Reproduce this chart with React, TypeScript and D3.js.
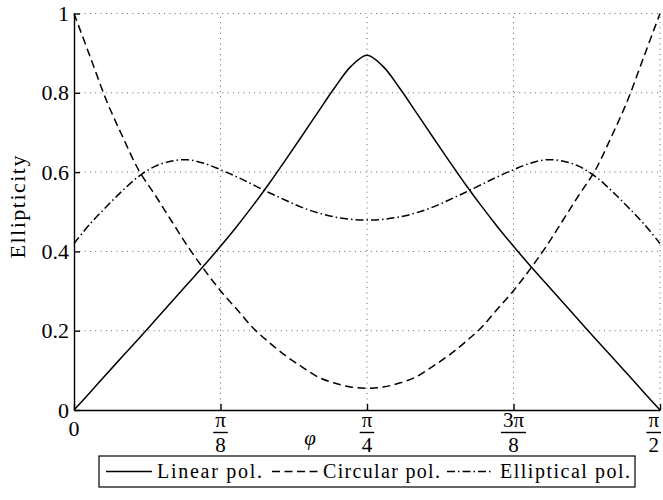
import * as d3 from "d3";
import React, { useEffect, useRef } from "react";

// angle phi in degrees (0 .. 90 = pi/2)
const phiDeg = [
  0, 2.5, 5, 7.5, 10, 12.5, 15, 17.5, 20, 22.5, 25, 27.5, 30, 32.5, 35, 37.5, 40, 42.5,
  45, 47.5, 50, 52.5, 55, 57.5, 60, 62.5, 65, 67.5, 70, 72.5, 75, 77.5, 80, 82.5, 85, 87.5, 90
];
const linearPol = [
  0, 0.045, 0.091, 0.136, 0.181, 0.227, 0.273, 0.319, 0.365, 0.413, 0.463, 0.516, 0.572, 0.631,
  0.691, 0.752, 0.812, 0.866, 0.895, 0.866, 0.812, 0.752, 0.691, 0.631, 0.572, 0.516, 0.463, 0.413,
  0.365, 0.319, 0.273, 0.227, 0.181, 0.136, 0.091, 0.045, 0
];
const circularPol = [
  1.0, 0.89, 0.78, 0.688, 0.603, 0.541, 0.476, 0.412, 0.354, 0.301, 0.254, 0.207, 0.17, 0.137,
  0.109, 0.083, 0.068, 0.058, 0.055, 0.058, 0.068, 0.083, 0.109, 0.137, 0.17, 0.207, 0.254, 0.301,
  0.354, 0.412, 0.476, 0.541, 0.603, 0.688, 0.78, 0.89, 1.0
];
const ellipticalPol = [
  0.42, 0.47, 0.513, 0.554, 0.59, 0.615, 0.628, 0.631, 0.622, 0.606, 0.588, 0.568, 0.548, 0.529,
  0.511, 0.497, 0.487, 0.481, 0.479, 0.481, 0.487, 0.497, 0.511, 0.529, 0.548, 0.568, 0.588, 0.606,
  0.622, 0.631, 0.628, 0.615, 0.59, 0.554, 0.513, 0.47, 0.42
];

const yTicks = [0, 0.2, 0.4, 0.6, 0.8, 1];
const xTicks = [0, 22.5, 45, 67.5, 90];
const xTickNum = ["0", "π", "π", "3π", "π"];
const xTickDen = ["", "8", "4", "8", "2"];
const legendLabels = ["Linear pol.", "Circular pol.", "Elliptical pol."];

const FONT = "'Liberation Serif', 'Times New Roman', serif";

export default function App() {
  const svgRef = useRef<SVGSVGElement>(null);
  const W = 663;
  const H = 500;

  useEffect(() => {
    const svg = d3.select(svgRef.current);
    svg.selectAll("*").remove();

    const x = d3.scaleLinear().domain([0, 90]).range([74, 660]);
    const y = d3.scaleLinear().domain([0, 1]).range([410, 13.5]);

    // grid
    const grid = svg.append("g")
      .attr("stroke", "#666")
      .attr("stroke-width", 1)
      .attr("stroke-dasharray", "1 4.3");
    xTicks.slice(1).forEach((t) => {
      grid.append("line")
        .attr("x1", x(t)).attr("x2", x(t))
        .attr("y1", y(0)).attr("y2", y(1));
    });
    yTicks.slice(1).forEach((t) => {
      grid.append("line")
        .attr("x1", x(0)).attr("x2", x(90))
        .attr("y1", y(t)).attr("y2", y(t));
    });

    // curves
    const series = [
      { values: linearPol, dash: null },
      { values: circularPol, dash: "8 4.5" },
      { values: ellipticalPol, dash: "8 3 1.5 3" }
    ];
    const line = d3.line<number>()
      .x((d, i) => x(phiDeg[i]))
      .y((d) => y(d))
      .curve(d3.curveCatmullRom);
    series.forEach((s) => {
      svg.append("path")
        .attr("d", line(s.values))
        .attr("fill", "none")
        .attr("stroke", "#000")
        .attr("stroke-width", 1.5)
        .attr("stroke-dasharray", s.dash);
    });

    // Y axis
    const yAxis = svg.append("g")
      .attr("transform", `translate(${x(0)},0)`)
      .call(d3.axisLeft(y).tickValues(yTicks).tickSizeInner(-6).tickSizeOuter(0)
        .tickPadding(5).tickFormat((d) => String(d)));
    yAxis.select(".domain").attr("stroke-width", 1.4);
    yAxis.selectAll("line").attr("stroke-width", 1.4);
    yAxis.selectAll("text")
      .attr("font-family", FONT)
      .attr("font-size", 22)
      .attr("fill", "#000");

    // X axis
    const xAxis = svg.append("g")
      .attr("transform", `translate(0,${y(0)})`)
      .call(d3.axisBottom(x).tickValues(xTicks).tickSizeInner(-6).tickSizeOuter(0)
        .tickFormat(() => ""));
    xAxis.select(".domain").attr("stroke-width", 1.4);
    xAxis.selectAll("line").attr("stroke-width", 1.4);

    // fractional tick labels
    xTicks.forEach((t, i) => {
      const g = svg.append("g").attr("font-family", FONT).attr("fill", "#000");
      if (xTickDen[i] === "") {
        g.append("text")
          .attr("x", x(t)).attr("y", 436)
          .attr("text-anchor", "middle")
          .attr("font-size", 22)
          .text(xTickNum[i]);
        return;
      }
      const num = g.append("text")
        .attr("y", 427)
        .attr("text-anchor", "middle")
        .attr("font-size", 21)
        .text(xTickNum[i]);
      const w = (num.node() as SVGTextElement).getComputedTextLength();
      const cx = Math.min(x(t), W - 2 - w / 2 - 2);
      num.attr("x", cx);
      g.append("line")
        .attr("x1", cx - w / 2 - 2).attr("x2", cx + w / 2 + 2)
        .attr("y1", 432.5).attr("y2", 432.5)
        .attr("stroke", "#000").attr("stroke-width", 1.4);
      g.append("text")
        .attr("x", cx).attr("y", 452)
        .attr("text-anchor", "middle")
        .attr("font-size", 21)
        .text(xTickDen[i]);
    });

    // axis labels
    svg.append("text")
      .attr("x", 310).attr("y", 445)
      .attr("text-anchor", "middle")
      .attr("font-family", FONT)
      .attr("font-style", "italic")
      .attr("font-size", 21)
      .text("φ");
    svg.append("text")
      .attr("transform", "translate(25,207) rotate(-90)")
      .attr("text-anchor", "middle")
      .attr("font-family", FONT)
      .attr("font-size", 22)
      .attr("textLength", 103)
      .text("Ellipticity");

    // legend
    const lg = svg.append("g");
    lg.append("rect")
      .attr("x", 99).attr("y", 456).attr("width", 536).attr("height", 31)
      .attr("fill", "#fff").attr("stroke", "#000").attr("stroke-width", 1.2);
    const sampleX = [106, 272, 447];
    const textX = [157, 323, 500];
    const textLen = [105, 117, 130];
    legendLabels.forEach((lab, i) => {
      lg.append("line")
        .attr("x1", sampleX[i]).attr("x2", sampleX[i] + 46)
        .attr("y1", 471.5).attr("y2", 471.5)
        .attr("stroke", "#000").attr("stroke-width", 1.3)
        .attr("stroke-dasharray", series[i].dash);
      lg.append("text")
        .attr("x", textX[i]).attr("y", 478)
        .attr("font-family", FONT)
        .attr("font-size", 20)
        .attr("textLength", textLen[i])
        .text(lab);
    });
  }, []);

  return (
    <svg ref={svgRef} width={W} height={H}
      style={{ position: "absolute", left: 0, top: 0, background: "#fff" }} />
  );
}
